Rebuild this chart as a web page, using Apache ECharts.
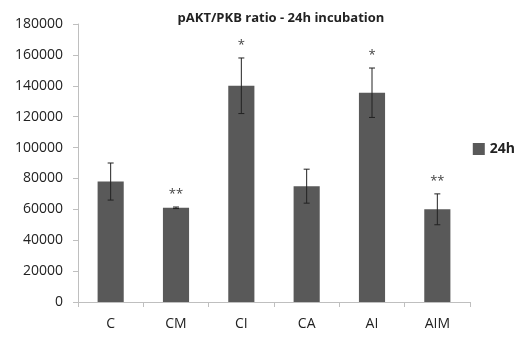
<!DOCTYPE html>
<html><head><meta charset="utf-8">
<script src="https://cdn.jsdelivr.net/npm/echarts@6/dist/echarts.min.js"></script>
<style>html,body{margin:0;padding:0;background:#fff}#c{width:526px;height:339px}</style>
</head><body><div id="c"></div>
<script>
var categories = ['C','CM','CI','CA','AI','AIM'];
var values = [78000, 61000, 140000, 75000, 135500, 60000];
var errors = [12000, 500, 18000, 11000, 16000, 10000];
var marks = ['', '**', '*', '', '*', '**'];
var yTicks = {min:0, max:180000, interval:20000};

var chart = echarts.init(document.getElementById('c'));
var errData = categories.map(function(c,i){ return [i, values[i]-errors[i], values[i]+errors[i], marks[i]]; });
chart.setOption({
  animation:false,
  title:{text:'pAKT/PKB ratio - 24h incubation', left:276, textAlign:'center', top:7,
    textStyle:{fontFamily:'Open Sans', fontSize:13, fontWeight:'bold', color:'#222'}},
  legend:{data:[{name:'24h', icon:'rect'}], right:6, top:137, itemWidth:12, itemHeight:12, itemGap:4,
    textStyle:{fontFamily:'Open Sans', fontSize:14, fontWeight:'bold', color:'#222'}},
  grid:{left:78, right:56, top:24, bottom:37},
  xAxis:{type:'category', data:categories,
    axisLine:{lineStyle:{color:'#bfbfbf'}}, axisTick:{show:true, length:5, lineStyle:{color:'#bfbfbf'}},
    axisLabel:{fontFamily:'Open Sans', fontSize:14, color:'#222', margin:15}},
  yAxis:{type:'value', min:yTicks.min, max:yTicks.max, interval:yTicks.interval,
    axisLine:{show:true, lineStyle:{color:'#bfbfbf'}}, axisTick:{show:true, length:5, lineStyle:{color:'#bfbfbf'}},
    splitLine:{show:false},
    axisLabel:{fontFamily:'Open Sans', fontSize:14, color:'#222', margin:15, formatter:function(v){return String(v);}}},
  series:[
    {name:'24h', type:'bar', data:values, barWidth:'40%', itemStyle:{color:'#595959'}},
    {type:'custom', data:errData, z:10,
     renderItem:function(params, api){
       var x = api.value(0);
       var lo = api.coord([x, api.value(1)]);
       var hi = api.coord([x, api.value(2)]);
       var cap = 3;
       var st = {stroke:'#222', lineWidth:1};
       var children = [
         {type:'line', shape:{x1:hi[0], y1:hi[1], x2:lo[0], y2:lo[1]}, style:st},
         {type:'line', shape:{x1:hi[0]-cap, y1:hi[1], x2:hi[0]+cap, y2:hi[1]}, style:st},
         {type:'line', shape:{x1:lo[0]-cap, y1:lo[1], x2:lo[0]+cap, y2:lo[1]}, style:st}
       ];
       var m = api.value(3);
       if (m) children.push({type:'text', style:{text:String(m), x:hi[0], y:hi[1]-6, align:'center', verticalAlign:'bottom',
         font:'13px "Open Sans"', fill:'#444'}});
       return {type:'group', children:children};
     }}
  ]
});
</script></body></html>
